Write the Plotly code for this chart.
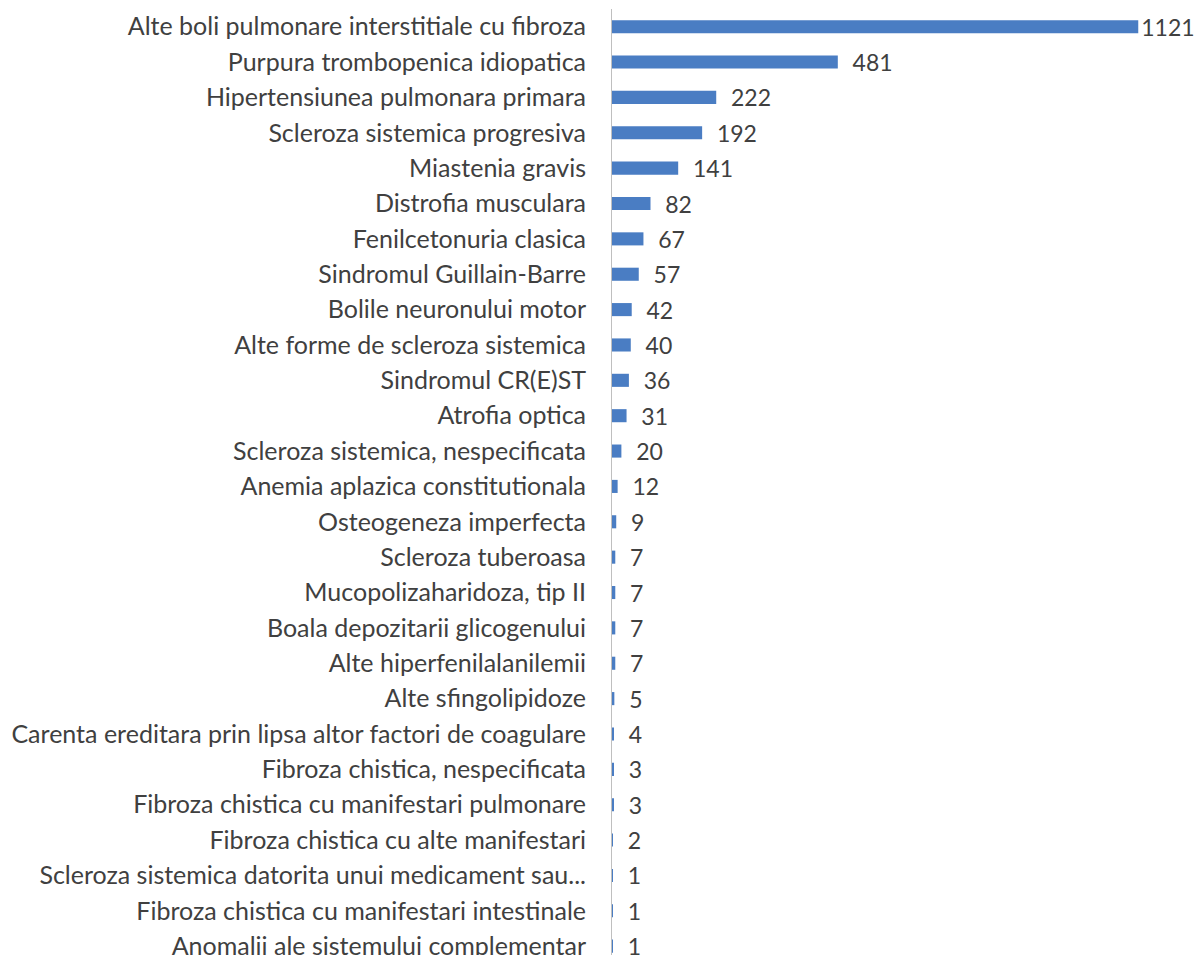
import plotly.graph_objects as go

categories = [
    "Alte boli pulmonare interstitiale cu fibroza",
    "Purpura trombopenica idiopatica",
    "Hipertensiunea pulmonara primara",
    "Scleroza sistemica progresiva",
    "Miastenia gravis",
    "Distrofia musculara",
    "Fenilcetonuria clasica",
    "Sindromul Guillain-Barre",
    "Bolile neuronului motor",
    "Alte forme de scleroza sistemica",
    "Sindromul CR(E)ST",
    "Atrofia optica",
    "Scleroza sistemica, nespecificata",
    "Anemia aplazica constitutionala",
    "Osteogeneza imperfecta",
    "Scleroza tuberoasa",
    "Mucopolizaharidoza, tip II",
    "Boala depozitarii glicogenului",
    "Alte hiperfenilalanilemii",
    "Alte sfingolipidoze",
    "Carenta ereditara prin lipsa altor factori de coagulare",
    "Fibroza chistica, nespecificata",
    "Fibroza chistica cu manifestari pulmonare",
    "Fibroza chistica cu alte manifestari",
    "Scleroza sistemica datorita unui medicament sau...",
    "Fibroza chistica cu manifestari intestinale",
    "Anomalii ale sistemului complementar",
]
values = [1121, 481, 222, 192, 141, 82, 67, 57, 42, 40, 36, 31, 20, 12, 9, 7, 7, 7, 7, 5, 4, 3, 3, 2, 1, 1, 1]

vmax = max(values)
labels = [str(v) if v == vmax else "  " + str(v) for v in values]

FONT = "Lato"
TXT = "#404040"

fig = go.Figure(
    go.Bar(
        x=values,
        y=categories,
        orientation="h",
        marker=dict(color="#4a7dc3", line=dict(width=0)),
        text=labels,
        textposition="outside",
        textfont=dict(family=FONT, size=23, color=TXT),
        outsidetextfont=dict(family=FONT, size=23, color=TXT),
        constraintext="none",
        cliponaxis=False,
        hoverinfo="skip",
    )
)

fig.update_layout(
    width=1196,
    height=955,
    margin=dict(l=612, r=0, t=9, b=0),
    paper_bgcolor="white",
    plot_bgcolor="white",
    bargap=0.63,
    showlegend=False,
    font=dict(family=FONT, size=25, color=TXT),
)
fig.update_xaxes(
    range=[0, 1244],
    visible=False,
    showgrid=False,
    zeroline=False,
    automargin=False,
)
fig.update_yaxes(
    type="category",
    range=[26.25, -0.5],
    showline=True,
    linecolor="#bfbfbf",
    linewidth=1,
    showgrid=False,
    ticks="",
    ticklabelstandoff=20,
    automargin=False,
    tickfont=dict(family=FONT, size=25, color=TXT),
)

fig.write_html(
    "out.html",
    config={"displayModeBar": False},
    post_script="document.body.style.margin='0';document.body.style.overflow='hidden';",
)
